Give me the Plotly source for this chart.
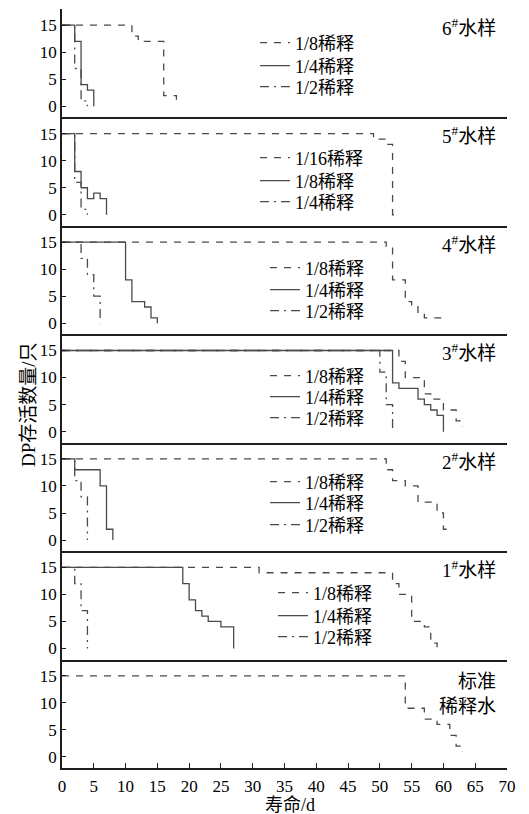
import plotly.graph_objects as go
from plotly.subplots import make_subplots

# ---------------- data (day at which each count begins, surviving count) -------------
# 6# water sample
s6_d8_days = [0, 11, 12, 16, 18]
s6_d8_vals = [15, 13, 12, 2, 0]
s6_d4_days = [0, 2, 3, 4, 5]
s6_d4_vals = [15, 12, 4, 3, 0]
s6_d2_days = [0, 2, 3, 4]
s6_d2_vals = [15, 7, 1, 0]
# 5# water sample
s5_d16_days = [0, 49, 51, 52, 53]
s5_d16_vals = [15, 14, 13, 0, 0]
s5_d8_days = [0, 2, 3, 4, 5, 6, 7]
s5_d8_vals = [15, 8, 5, 3, 4, 3, 0]
s5_d4_days = [0, 2, 3, 4]
s5_d4_vals = [15, 6, 1, 0]
# 4# water sample
s4_d8_days = [0, 51, 52, 54, 55, 56, 57, 60]
s4_d8_vals = [15, 14, 8, 4, 3, 2, 1, 1]
s4_d4_days = [0, 10, 11, 13, 14, 15]
s4_d4_vals = [15, 8, 4, 3, 1, 0]
s4_d2_days = [0, 3, 4, 5, 6]
s4_d2_vals = [15, 12, 9, 5, 0]
# 3# water sample
s3_d8_days = [0, 53, 54, 57, 58, 60, 62, 63]
s3_d8_vals = [15, 13, 10, 7, 6, 4, 2, 1]
s3_d4_days = [0, 52, 53, 56, 57, 58, 59, 60]
s3_d4_vals = [15, 9, 8, 6, 5, 4, 3, 0]
s3_d2_days = [0, 50, 51, 52]
s3_d2_vals = [15, 11, 5, 0]
# 2# water sample
s2_d8_days = [0, 51, 52, 54, 56, 59, 60, 61]
s2_d8_vals = [15, 13, 11, 10, 7, 5, 2, 2]
s2_d4_days = [0, 2, 6, 7, 8]
s2_d4_vals = [15, 13, 10, 2, 0]
s2_d2_days = [0, 2, 3, 4]
s2_d2_vals = [15, 11, 8, 0]
# 1# water sample
s1_d8_days = [0, 31, 52, 53, 55, 57, 58, 59]
s1_d8_vals = [15, 14, 12, 10, 5, 4, 1, 0]
s1_d4_days = [0, 19, 20, 21, 22, 23, 25, 27]
s1_d4_vals = [15, 12, 9, 7, 6, 5, 4, 0]
s1_d2_days = [0, 2, 3, 4]
s1_d2_vals = [15, 12, 7, 0]
# standard dilution water
std_days = [0, 54, 57, 59, 61, 62, 63]
std_vals = [15, 9, 7, 6, 4, 2, 1]

panel_titles = ["6<sup>#</sup>水样", "5<sup>#</sup>水样", "4<sup>#</sup>水样",
                "3<sup>#</sup>水样", "2<sup>#</sup>水样", "1<sup>#</sup>水样", "标准<br>稀释水"]
y_ticks = [0, 5, 10, 15]
x_ticks = list(range(0, 71, 5))
x_title = "寿命/d"
y_title = "DP存活数量/只"

panels = [
    [("1/8稀释", s6_d8_days, s6_d8_vals, "dash"),
     ("1/4稀释", s6_d4_days, s6_d4_vals, "solid"),
     ("1/2稀释", s6_d2_days, s6_d2_vals, "dashdot")],
    [("1/16稀释", s5_d16_days, s5_d16_vals, "dash"),
     ("1/8稀释", s5_d8_days, s5_d8_vals, "solid"),
     ("1/4稀释", s5_d4_days, s5_d4_vals, "dashdot")],
    [("1/8稀释", s4_d8_days, s4_d8_vals, "dash"),
     ("1/4稀释", s4_d4_days, s4_d4_vals, "solid"),
     ("1/2稀释", s4_d2_days, s4_d2_vals, "dashdot")],
    [("1/8稀释", s3_d8_days, s3_d8_vals, "dash"),
     ("1/4稀释", s3_d4_days, s3_d4_vals, "solid"),
     ("1/2稀释", s3_d2_days, s3_d2_vals, "dashdot")],
    [("1/8稀释", s2_d8_days, s2_d8_vals, "dash"),
     ("1/4稀释", s2_d4_days, s2_d4_vals, "solid"),
     ("1/2稀释", s2_d2_days, s2_d2_vals, "dashdot")],
    [("1/8稀释", s1_d8_days, s1_d8_vals, "dash"),
     ("1/4稀释", s1_d4_days, s1_d4_vals, "solid"),
     ("1/2稀释", s1_d2_days, s1_d2_vals, "dashdot")],
    [("标准稀释水", std_days, std_vals, "dash")],
]

# ---------------- styling / layout ----------------
FONT = "Liberation Serif, Noto Sans CJK SC, serif"
LINE_COLOR = "#4a4a4a"
AXIS_COLOR = "#1e1e1e"
DASHES = {"dash": "7px,7px", "solid": "solid", "dashdot": "9px,5px,2px,5px"}

OFF = 8                      # page body margin of the html page
W, H = 529 - OFF, 814 - OFF
ML, MT = 62 - OFF, 9 - OFF
MR = W - (507 - OFF)
MB = H - (768 - OFF)
NP = 7
plot_w = W - ML - MR
plot_h = H - MT - MB

def px_x(page_x):
    return (page_x - OFF - ML) / plot_w

def px_y(page_y):
    return 1 - (page_y - OFF - MT) / plot_h

# legend rows (page pixels): text start x, row centre y per panel
legend_text_x = [295, 295, 305, 305, 305, 313]
legend_row_y = [[43, 66, 87], [158, 181, 202], [268, 290, 311],
                [376, 397, 418], [482, 503, 525], [593, 616, 637]]

fig = make_subplots(rows=NP, cols=1, shared_xaxes=True, vertical_spacing=0)

legend_layout = {}
k = 0
for r, series in enumerate(panels, start=1):
    for j, (name, days, vals, style) in enumerate(series):
        show = r < NP
        lg = None
        if show:
            k += 1
            lg = "legend" if k == 1 else f"legend{k}"
            legend_layout[lg] = dict(
                x=px_x(legend_text_x[r - 1] - 40), y=px_y(legend_row_y[r - 1][j]),
                xanchor="left", yanchor="middle", bgcolor="rgba(0,0,0,0)",
                borderwidth=0, font=dict(family=FONT, size=18, color="black"),
                itemwidth=30)
        fig.add_trace(go.Scatter(
            x=days, y=vals, mode="lines", name=name,
            line=dict(shape="hv", color=LINE_COLOR, width=1.3, dash=DASHES[style]),
            showlegend=show, legend=lg if lg else "legend", hoverinfo="skip"),
            row=r, col=1)

for r in range(1, NP + 1):
    fig.update_xaxes(range=[0, 70], showline=True, linecolor=AXIS_COLOR, linewidth=1.5,
                     showgrid=False, zeroline=False, row=r, col=1,
                     tickvals=x_ticks, ticks=("inside" if r == NP else ""),
                     ticklen=5, tickcolor=AXIS_COLOR, tickwidth=1.3,
                     showticklabels=(r == NP), ticklabelstandoff=2,
                     tickfont=dict(family=FONT, size=17, color="black"))
    fig.update_yaxes(range=[-2.05, 18], showline=True, linecolor=AXIS_COLOR, linewidth=1.5,
                     showgrid=False, zeroline=False, tickvals=y_ticks, ticks="inside",
                     ticklen=4, tickcolor=AXIS_COLOR, tickwidth=1.3,
                     tickfont=dict(family=FONT, size=17, color="black"), row=r, col=1)

fig.update_layout(showlegend=True, **legend_layout)

# panel labels
for r in range(1, NP + 1):
    yd = "y domain" if r == 1 else f"y{r} domain"
    xd = "x domain" if r == 1 else f"x{r} domain"
    if r < NP:
        fig.add_annotation(text=panel_titles[r - 1], xref=xd, yref=yd, x=0.98, y=0.835,
                           xanchor="right", yanchor="middle", showarrow=False,
                           font=dict(family=FONT, size=19, color="black"))
    else:
        fig.add_annotation(text=panel_titles[r - 1], xref=xd, yref=yd, x=0.98, y=0.683,
                           xanchor="right", yanchor="middle", showarrow=False, align="right",
                           font=dict(family=FONT, size=19, color="black"))

fig.add_annotation(text=y_title, xref="paper", yref="paper", x=px_x(28), y=px_y(405),
                   xanchor="center", yanchor="middle", textangle=-90, showarrow=False,
                   font=dict(family=FONT, size=19, color="black"))
fig.add_annotation(text=x_title, xref="paper", yref="paper", x=px_x(290), y=px_y(805),
                   xanchor="center", yanchor="middle", showarrow=False,
                   font=dict(family=FONT, size=18, color="black"))

fig.update_layout(width=W, height=H, margin=dict(l=ML, r=MR, t=MT, b=MB),
                  plot_bgcolor="white", paper_bgcolor="white")

fig.write_html("out.html")
